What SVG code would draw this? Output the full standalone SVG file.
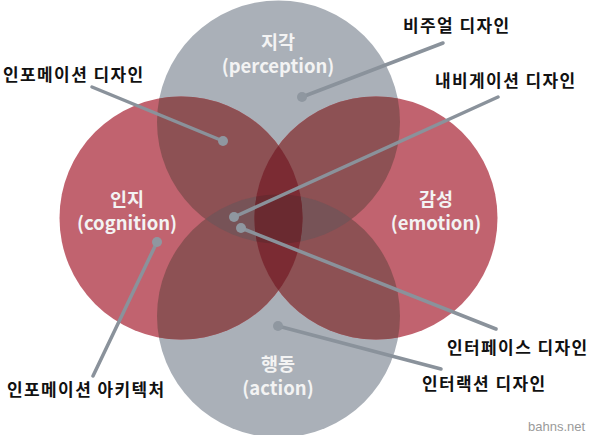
<svg xmlns="http://www.w3.org/2000/svg" width="590" height="435" viewBox="0 0 590 435">
<style>
.gray{fill:#aab0b8}
.red{fill:#c1636f}
.rg{fill:#8d5154}
.rrg{fill:#7b2b33}
.rgg{fill:#775357}
.all{fill:#6a2a30}
.in{font-family:"Noto Sans CJK KR","Noto Sans",sans-serif;font-weight:bold;font-size:18.5px;fill:#f3f3f3;text-anchor:middle}
.out{font-family:"Noto Sans CJK KR","Noto Sans",sans-serif;font-weight:bold;font-size:17px;letter-spacing:1.4px;fill:#111}
.ln{stroke:#8a929b;stroke-width:3.5;fill:none;stroke-linecap:round}
.dot{fill:#8f97a0}
.wm{font-family:"Liberation Sans",sans-serif;font-size:13px;fill:#9a9a9a}
</style>
<defs>
<clipPath id="cT"><circle cx="278.5" cy="122" r="121.5"/></clipPath>
<clipPath id="cB"><circle cx="278.5" cy="316" r="121.5"/></clipPath>
<clipPath id="cL"><circle cx="181" cy="218" r="121.5"/></clipPath>
<clipPath id="cR"><circle cx="376" cy="218" r="121.5"/></clipPath>
</defs>
<rect width="590" height="435" fill="#ffffff"/>
<g id="circles">
<circle id="perception-circle" class="gray" cx="278.5" cy="122" r="121.5"/>
<circle id="action-circle" class="gray" cx="278.5" cy="316" r="121.5"/>
<circle id="cognition-circle" class="red" cx="181" cy="218" r="121.5"/>
<circle id="emotion-circle" class="red" cx="376" cy="218" r="121.5"/>
<g clip-path="url(#cT)"><circle class="rg" cx="181" cy="218" r="121.5"/><circle class="rg" cx="376" cy="218" r="121.5"/></g>
<g clip-path="url(#cB)"><circle class="rg" cx="181" cy="218" r="121.5"/><circle class="rg" cx="376" cy="218" r="121.5"/></g>
<g clip-path="url(#cT)"><circle class="rgg" cx="278.5" cy="316" r="121.5"/></g>
<g clip-path="url(#cL)"><circle class="rrg" cx="376" cy="218" r="121.5"/></g>
<g clip-path="url(#cT)"><g clip-path="url(#cB)"><g clip-path="url(#cL)"><circle class="all" cx="376" cy="218" r="121.5"/></g></g></g>
</g>
<g id="perception"><text class="in" x="278" y="49">지각</text><text class="in" x="278" y="73">(perception)</text></g>
<g id="cognition"><text class="in" x="127" y="206">인지</text><text class="in" x="127" y="230">(cognition)</text></g>
<g id="emotion"><text class="in" x="436" y="206">감성</text><text class="in" x="436" y="230">(emotion)</text></g>
<g id="action"><text class="in" x="278" y="371">행동</text><text class="in" x="278" y="395">(action)</text></g>
<g id="connectors">
<line class="ln" x1="302" y1="97" x2="443" y2="43"/><circle class="dot" cx="302" cy="97" r="5"/>
<line class="ln" x1="223" y1="141" x2="92" y2="87"/><circle class="dot" cx="223" cy="141" r="5"/>
<line class="ln" x1="234" y1="217" x2="498" y2="97"/><circle class="dot" cx="234" cy="217" r="5"/>
<line class="ln" x1="241" y1="228" x2="496" y2="329"/><circle class="dot" cx="241" cy="228" r="5"/>
<line class="ln" x1="278" y1="326" x2="441" y2="369"/><circle class="dot" cx="278" cy="326" r="5"/>
<line class="ln" x1="157" y1="242" x2="93" y2="376"/><circle class="dot" cx="157" cy="242" r="5"/>
</g>
<g id="visual-design"><text class="out" x="403" y="32">비주얼 디자인</text></g>
<g id="navigation-design"><text class="out" x="435" y="87">내비게이션 디자인</text></g>
<g id="information-design"><text class="out" x="3" y="81">인포메이션 디자인</text></g>
<g id="information-architecture"><text class="out" x="7" y="396">인포메이션 아키텍처</text></g>
<g id="interface-design"><text class="out" x="447" y="354">인터페이스 디자인</text></g>
<g id="interaction-design"><text class="out" x="422" y="390">인터랙션 디자인</text></g>
<text class="wm" x="528" y="431">bahns.net</text>
</svg>
